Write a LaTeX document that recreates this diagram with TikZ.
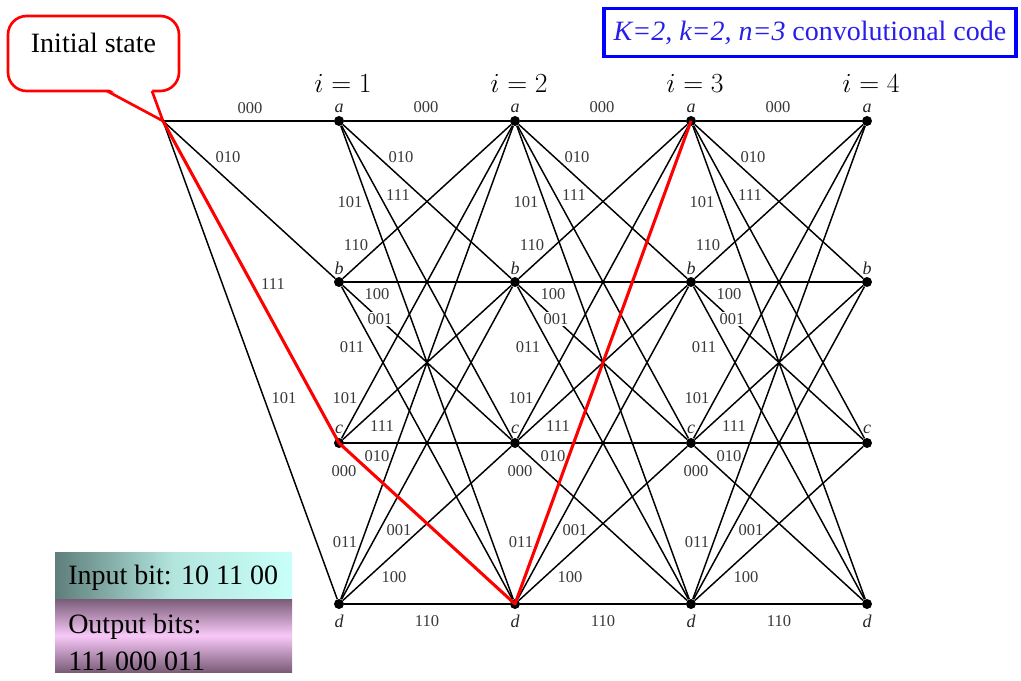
\documentclass[tikz,border=0pt]{standalone}
\usepackage[no-math]{fontspec}
\setmainfont{Liberation Serif}
\definecolor{boxcyan}{HTML}{C8FFF8}
\definecolor{boxteal}{HTML}{5E7E7A}
\definecolor{boxpink}{HTML}{F8C8F8}
\definecolor{boxpurp}{HTML}{7A5C78}
\definecolor{titleblue}{RGB}{40,30,235}
\begin{document}
\begin{tikzpicture}[x=0.75pt,y=-0.75pt,
  trel/.style={line width=1.1pt, black},
  redpath/.style={line width=2.3pt, red, line join=round},
  dot/.style={circle, fill=black, inner sep=0pt, minimum size=7.5pt},
  ln/.style={font=\fontsize{12.4}{14}\selectfont, text=black!78, inner sep=1pt},
  lw/.style={ln, fill=white},
  stl/.style={font=\fontsize{13.5}{15}\selectfont\itshape, text=black!85, inner sep=0pt},
  stage/.style={font=\fontsize{20}{24}\selectfont, inner sep=0pt},
  big/.style={font=\fontsize{21}{25}\selectfont, inner sep=0pt},
  callout/.style={red, line width=2pt}]
\useasboundingbox (0,0) rectangle (1021,681);

% callout
\coordinate (s) at (163,121);
\draw[callout, rounded corners=14, fill=white] (8,16) rectangle (179,91);
\fill[white] (108,88.5) -- (151.5,88.5) -- (s) -- cycle;
\draw[callout, line join=miter] (107,91) -- (s) -- (152,91);
\node[big, anchor=base] (init) at (93.5,53) {Initial state};

% title box
\node[draw=blue, line width=2.4pt, minimum width=309pt, minimum height=36pt,
  text=titleblue, big] (title) at (810,32.5)
  {\itshape K=2, k=2, n=3\upshape\ convolutional code};

% state nodes
\foreach \j in {1,...,4}{
  \pgfmathsetmacro\X{339+176*(\j-1)}
  \node[dot] (a\j) at (\X,121) {};
  \node[dot] (b\j) at (\X,282) {};
  \node[dot] (c\j) at (\X,443) {};
  \node[dot] (d\j) at (\X,604) {};
  \node[stl] (na\j) at (\X,108) {a};
  \node[stl] (nb\j) at (\X,268) {b};
  \node[stl] (nc\j) at (\X,429) {c};
  \node[stl] (nd\j) at (\X,621) {d};
  \node[stage] (i\j) at (\X+4,83) {$i=\j$};
}

% trellis branches
\foreach \p in {a,b,c,d}{ \draw[trel] (s) -- (\p1); }
\foreach \j [evaluate=\j as \k using int(\j+1)] in {1,2,3}{
  \foreach \p in {a,b,c,d}{
    \foreach \q in {a,b,c,d}{
      \draw[trel] (\p\j) -- (\q\k);
    }
  }
}

% path
\draw[redpath] (s) -- (c1.center) -- (d2.center) -- (a3.center);

% labels of the first stage
\node[ln] (l0-1) at (250,108) {000};
\node[ln] (l0-2) at (228,157) {010};
\node[ln] (l0-3) at (273,284) {111};
\node[ln] (l0-4) at (284,398) {101};

% labels of the other stages
\foreach \j in {1,2,3}{
  \pgfmathsetmacro\X{339+176*(\j-1)}
  \foreach \dx/\y/\t/\s [count=\n] in {
      87/107/000/ln, 62/157/010/ln, 59/195/111/ln, 11/202/101/ln,
      17/245/110/ln, 38/294/100/ln, 41/319/001/lw, 13/347/011/ln,
      6/398/101/ln, 43/426/111/ln, 38/456/010/ln, 5/471/000/ln,
      6/542/011/ln, 60/530/001/ln, 55/577/100/ln, 88/621/110/ln}{
    \node[\s] (l\j-\n) at (\X+\dx,\y) {\t};
  }
}

% input / output box
\shade[left color=boxteal, right color=boxcyan, middle color=boxcyan!80!boxteal] (55,552) rectangle (292,599);
\shade[top color=boxpurp, bottom color=boxpurp, middle color=boxpink] (55,599) rectangle (292,672);
\node[big, anchor=base west] (inp) at (68,584) {Input bit: 10 11 00};
\node[big, anchor=base west] (outp) at (68,633) {Output bits:};
\node[big, anchor=base west] (outv) at (68,670) {111 000 011};
\end{tikzpicture}
\end{document}
